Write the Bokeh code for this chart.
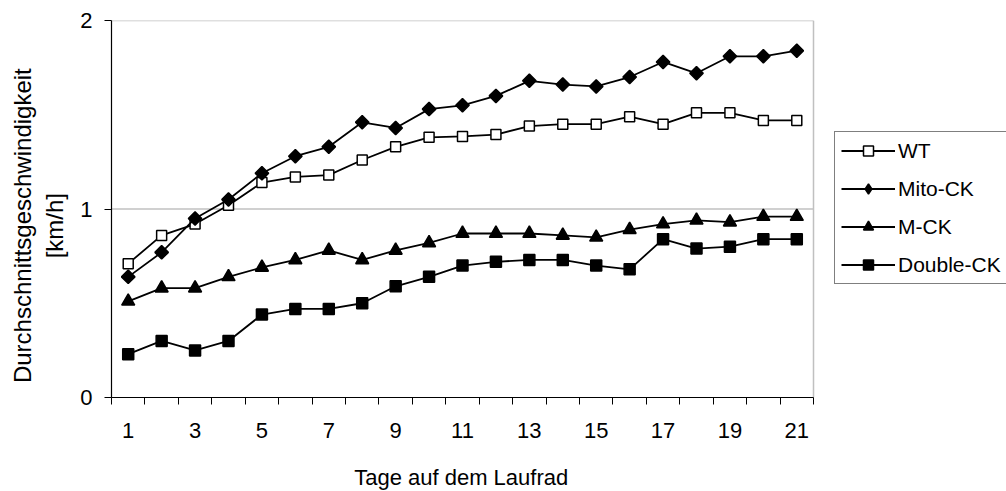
from bokeh.plotting import figure
from bokeh.models import Range1d, FixedTicker, Legend, LegendItem
from bokeh.embed import file_html
from bokeh.resources import INLINE
import math

# Average running speed per day on the running wheel
days = list(range(1, 22))
wt = [0.71, 0.86, 0.92, 1.02, 1.14, 1.17, 1.18, 1.26, 1.33, 1.38, 1.385,
      1.395, 1.44, 1.45, 1.45, 1.49, 1.45, 1.51, 1.51, 1.47, 1.47]
mito_ck = [0.64, 0.77, 0.95, 1.05, 1.19, 1.28, 1.33, 1.46, 1.43, 1.53, 1.55,
           1.60, 1.68, 1.66, 1.65, 1.70, 1.78, 1.72, 1.81, 1.81, 1.84]
m_ck = [0.51, 0.58, 0.58, 0.64, 0.69, 0.73, 0.78, 0.73, 0.78, 0.82, 0.87,
        0.87, 0.87, 0.86, 0.85, 0.89, 0.92, 0.94, 0.93, 0.96, 0.96]
double_ck = [0.23, 0.30, 0.25, 0.30, 0.44, 0.47, 0.47, 0.50, 0.59, 0.64, 0.70,
             0.72, 0.73, 0.73, 0.70, 0.68, 0.84, 0.79, 0.80, 0.84, 0.84]
y_ticks = [0, 1, 2]

FONT = "Liberation Sans"
FS = "22px"
GRID = "#c0c0c0"
NBSP = "\u00a0"

# Layout in pixels: plot area 702 px wide, legend area to its right
LEFT, TOP, BOTTOM = 111, 20, 94
AREA_W, AREA_H, SIDE_W = 702, 377, 193
x0, x1 = days[0] - 0.5, days[-1] + 0.5
px_per_day = AREA_W / (x1 - x0)

p = figure(frame_width=AREA_W + SIDE_W, frame_height=AREA_H,
           output_backend="svg", toolbar_location=None,
           x_range=Range1d(x0, x1 + SIDE_W / px_per_day),
           y_range=Range1d(y_ticks[0], y_ticks[-1]),
           min_border_left=LEFT, min_border_right=0,
           min_border_top=TOP, min_border_bottom=BOTTOM)
p.background_fill_color = "white"
p.border_fill_color = "white"
p.outline_line_color = None
p.xgrid.grid_line_color = None
p.ygrid.grid_line_color = None

# gray gridlines / top edge and right edge of the plot area
p.segment(x0=[x0] * 2, x1=[x1] * 2, y0=y_ticks[1:], y1=y_ticks[1:],
          line_color=GRID, line_width=1.5)
p.segment(x0=[x1], x1=[x1], y0=[y_ticks[0]], y1=[y_ticks[-1]],
          line_color=GRID, line_width=1.5)

# x axis: labels on odd days, tick marks between the day categories
p.xaxis.bounds = (x0, x1)
p.xaxis.ticker = FixedTicker(ticks=days[::2],
                             minor_ticks=[d - 0.5 for d in days] + [x1])
p.xaxis.major_tick_out = 0
p.xaxis.major_tick_in = 0
p.xaxis.minor_tick_out = 7
p.xaxis.minor_tick_in = 0
p.xaxis.minor_tick_line_color = "black"
p.xaxis.minor_tick_line_width = 1
p.xaxis.major_label_standoff = 18
# trailing no-break spaces centre the title under the plot area, not the legend
p.xaxis.axis_label = "Tage auf dem Laufrad" + NBSP * 32
p.xaxis.axis_label_standoff = 24

p.yaxis.ticker = FixedTicker(ticks=y_ticks, minor_ticks=[])
p.yaxis.major_tick_out = 7
p.yaxis.major_tick_in = 0
p.yaxis.major_label_standoff = 12
# trailing no-break spaces move the two title lines a little downwards
p.yaxis.axis_label = ("Durchschnittsgeschwindigkeit" + NBSP * 5 + "\n"
                      + "[km/h]" + NBSP * 5)
p.yaxis.axis_label_standoff = 9

for ax in (p.xaxis[0], p.yaxis[0]):
    ax.axis_line_color = "black"
    ax.axis_line_width = 1.2
    ax.major_tick_line_color = "black"
    ax.major_tick_line_width = 1
    ax.major_label_text_font = FONT
    ax.major_label_text_font_size = FS
    ax.major_label_text_color = "black"
    ax.axis_label_text_font = FONT
    ax.axis_label_text_font_size = FS
    ax.axis_label_text_font_style = "normal"
    ax.axis_label_text_color = "black"
p.yaxis.axis_label_text_font_size = "24px"

items = []

def add_series(name, vals, marker, fill, size):
    ln = p.line(days, vals, line_color="black", line_width=1.8)
    sc = p.scatter(days, vals, marker=marker, size=size,
                   fill_color=fill, line_color="black", line_width=1.5)
    items.append(LegendItem(label=name, renderers=[ln, sc]))
    return ln, sc

add_series("WT", wt, "square", "white", 10)
# diamonds: legend glyph from a diamond marker, plot marks as squares turned 45°
add_series("Mito-CK", mito_ck, "diamond", "black", 10)
p.scatter(days, mito_ck, marker="square", size=9.5, angle=math.pi / 4,
          fill_color="black", line_color="black", line_width=1.5)
add_series("M-CK", m_ck, "triangle", "black", 13)
add_series("Double-CK", double_ck, "square", "black", 11)

legend = Legend(items=items, location=(AREA_W + 21, 113),
                label_text_font=FONT, label_text_font_size="21px",
                label_text_color="black",
                glyph_width=54, glyph_height=25, label_height=25,
                label_standoff=3, spacing=13, padding=6, margin=0,
                border_line_color="black", border_line_width=1,
                background_fill_color="white", background_fill_alpha=1)
p.add_layout(legend, "center")

open("out.html", "w").write(file_html(p, INLINE))
